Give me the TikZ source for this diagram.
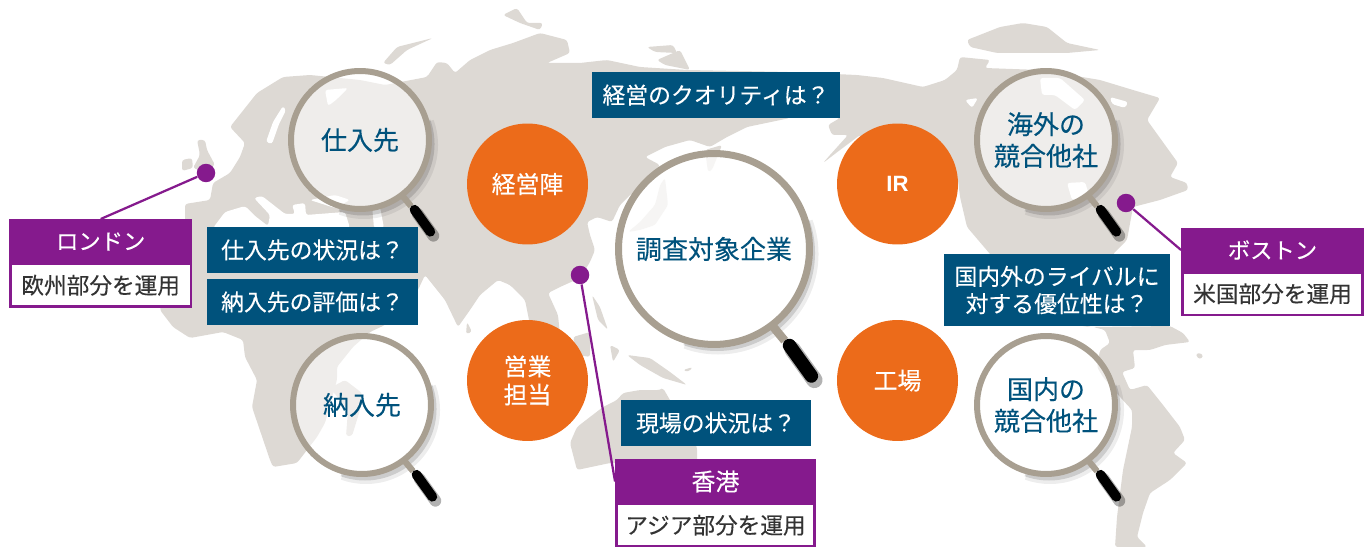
\documentclass[tikz,border=0pt]{standalone}
\usepackage{fontspec}
\setmainfont{Noto Sans CJK JP}[FakeBold=.25]
\newfontfamily\latinbold{Liberation Sans Bold}
\usetikzlibrary{positioning}
\definecolor{landgray}{HTML}{DDD9D4}
\definecolor{rimgray}{HTML}{A89F91}
\definecolor{deepblue}{HTML}{00527C}
\definecolor{askorange}{HTML}{EC6B1A}
\definecolor{sitepurple}{HTML}{851A8D}
\definecolor{bodyink}{HTML}{333333}
\tikzset{
    land/.style = {fill=landgray, rounded corners=1.5pt},
    sea/.style = {fill=white, rounded corners=1.5pt},
    lens/.style = {circle, draw=rimgray, line width=.12cm, fill=white, fill opacity=.55, text opacity=1, text=deepblue, align=center, inner sep=0pt, minimum size=2.76cm, font=\fontsize{14.8}{18}\selectfont},
    asker/.style = {circle, fill=askorange, text=white, align=center, inner sep=0pt, minimum size=2.42cm, font=\fontsize{13.6}{16}\selectfont},
    question/.style = {fill=deepblue, text=white, align=center, inner sep=0pt, minimum height=.92cm, font=\fontsize{13}{15.5}\selectfont},
    sitetitle/.style = {fill=sitepurple, text=white, inner sep=0pt, outer sep=0pt, minimum height=.9cm, font=\fontsize{12.7}{15}\selectfont},
    sitebody/.style = {draw=sitepurple, line width=.05cm, fill=white, text=bodyink, inner sep=0pt, outer sep=0pt, minimum height=.85cm, font=\fontsize{12.9}{15}\selectfont},
    sitedot/.style = {circle, fill=sitepurple, inner sep=0pt, minimum size=.37cm},
    leader/.style = {draw=sitepurple, line width=.045cm}
}
\begin{document}
\begin{tikzpicture}[x=.02cm, y=-.02cm]
    \useasboundingbox (0,0) rectangle (1369,547);
    % Draw the map: Europe, Asia and Africa
    \fill[land] (185,204) -- (210,200) -- (213,183) -- (230,173) -- (240,157) -- (245,143) -- (230,127) -- (257,93) -- (283,77) -- (310,75) -- (360,80) -- (385,85) -- (427,77) -- (437,62) -- (447,63) -- (455,73) -- (470,60) -- (490,50) -- (513,43) -- (540,33) -- (567,40) -- (570,53) -- (547,63) -- (580,63) -- (607,60) -- (640,67) -- (687,70) -- (790,72) -- (790,118) -- (747,127) -- (727,137) -- (710,147) -- (690,140) -- (665,147) -- (645,157) -- (660,165) -- (650,180) -- (630,195) -- (620,205) -- (612,222) -- (597,217) -- (587,222) -- (590,235) -- (595,250) -- (590,262) -- (580,278) -- (560,287) -- (548,293) -- (558,315) -- (560,335) -- (530,325) -- (525,300) -- (510,285) -- (498,280) -- (480,295) -- (470,310) -- (458,327) -- (445,300) -- (425,275) -- (418,290) -- (385,325) -- (370,332) -- (353,347) -- (337,367) -- (337,380) -- (325,423) -- (317,437) -- (297,463) -- (273,467) -- (270,460) -- (252,407) -- (257,380) -- (245,357) -- (243,340) -- (223,332) -- (190,338) -- (173,327) -- (160,310) -- (165,270) -- (185,227) -- cycle;
    % Draw the seas
    \fill[sea] (213,228) -- (225,212) -- (245,206) -- (255,216) -- (268,226) -- (270,215) -- (254,198) -- (262,196) -- (285,214) -- (295,214) -- (292,205) -- (305,203) -- (306,215) -- (345,212) -- (350,228) -- cycle;
    \fill[sea] (310,200) -- (335,195) -- (350,200) -- (335,208) -- cycle;
    \fill[sea] (372,205) -- (380,207) -- (384,228) -- (374,228) -- cycle;
    \fill[sea] (266,142) -- (273,122) -- (283,106) -- (286,110) -- (279,124) -- (272,144) -- cycle;
    \fill[sea] (325,90) -- (348,88) -- (336,100) -- (328,106) -- cycle;
    % Draw the islands of the old world
    \fill[land] (197,140) -- (205,140) -- (207,150) -- (215,165) -- (205,172) -- (193,168) -- (200,155) -- cycle;
    \fill[land] (182,160) -- (192,158) -- (193,168) -- (182,171) -- cycle;
    \fill[land] (383,63) -- (397,47) -- (433,38) -- (407,50) -- (390,65) -- cycle;
    \fill[land] (503,15) -- (517,8) -- (527,23) -- (543,23) -- (540,30) -- (520,23) -- cycle;
    \fill[land] (647,47) -- (673,45) -- (677,53) -- (655,52) -- cycle;
    \fill[land] (657,60) -- (680,50) -- (690,70) -- (665,65) -- cycle;
    \fill[land] (705,150) -- (722,145) -- (712,170) -- (708,172) -- cycle;
    \fill[land] (665,178) -- (668,205) -- (655,225) -- (640,230) -- (628,232) -- (640,222) -- (655,205) -- (660,185) -- cycle;
    \fill[land] (467,322) -- (472,332) -- (466,334) -- cycle;
    \fill[land] (592,295) -- (600,307) -- (608,330) -- (598,320) -- cycle;
    \fill[land] (573,337) -- (590,332) -- (590,357) -- (578,355) -- cycle;
    \fill[land] (610,345) -- (620,350) -- (613,362) -- cycle;
    \fill[land] (627,355) -- (650,358) -- (670,372) -- (687,385) -- (663,378) -- (640,365) -- cycle;
    \fill[land] (683,370) -- (693,367) -- (688,372) -- cycle;
    \fill[land] (570,443) -- (577,427) -- (603,407) -- (617,400) -- (623,393) -- (640,390) -- (660,390) -- (663,388) -- (697,447) -- (697,465) -- (610,463) -- (577,470) -- cycle;
    \fill[land] (330,388) -- (345,380) -- (362,393) -- (360,410) -- (352,436) -- (346,436) -- (348,410) -- cycle;
    % Draw the map: North and South America
    \fill[land] (790,72) -- (857,75) -- (883,78) -- (923,87) -- (945,80) -- (957,70) -- (960,57) -- (990,60) -- (985,68) -- (1040,70) -- (1100,80) -- (1133,90) -- (1160,98) -- (1147,120) -- (1178,163) -- (1170,177) -- (1187,183) -- (1188,190) -- (1160,200) -- (1133,207) -- (1127,240) -- (1113,254) -- (1113,300) -- (1090,327) -- (1040,320) -- (990,254) -- (967,227) -- (960,197) -- (958,180) -- (860,135) -- (840,150) -- (823,163) -- (830,155) -- (848,135) -- (832,135) -- (828,125) -- (840,118) -- cycle;
    \fill[sea] (1040,78) -- (1060,78) -- (1085,100) -- (1075,110) -- (1055,95) -- (1042,95) -- cycle;
    \fill[sea] (1110,97) -- (1128,102) -- (1125,108) -- (1112,104) -- cycle;
    \fill[sea] (1067,183) -- (1085,182) -- (1090,198) -- (1072,200) -- cycle;
    \fill[sea] (965,100) -- (978,98) -- (972,108) -- cycle;
    \fill[land] (1093,327) -- (1105,330) -- (1110,343) -- (1100,350) -- (1097,367) -- (1103,377) -- (1120,397) -- (1132,410) -- (1132,427) -- (1123,470) -- (1117,517) -- (1115,547) -- (1147,547) -- (1137,537) -- (1143,513) -- (1150,493) -- (1170,480) -- (1187,463) -- (1173,453) -- (1185,440) -- (1180,427) -- (1163,405) -- (1147,385) -- (1130,390) -- (1122,372) -- (1135,368) -- (1133,350) -- (1150,350) -- (1165,345) -- (1190,342) -- (1183,333) -- (1170,326) -- cycle;
    \fill[land] (1196,353) -- (1203,354) -- (1202,359) -- (1197,358) -- cycle;
    \fill[land] (967,40) -- (1000,27) -- (1023,23) -- (1047,27) -- (1067,43) -- (1100,50) -- (1067,53) -- (997,53) -- (970,47) -- cycle;
    % Draw the handles and the shadows of the lenses
    \foreach \cx/\cy/\r in {360/140/69, 362/405/69, 1046/140/69, 1046/405/69, 714/249/95.5}{
        \draw[black, opacity=.07, line width=.2cm] (\cx+4,\cy+5) ++(-20:\r) arc[start angle=-20, end angle=110, radius=\r];
        \draw[black, opacity=.14, line width=.1cm] (\cx+3,\cy+4) ++(-20:\r) arc[start angle=-20, end angle=110, radius=\r];
        \draw[rimgray, line width=\r*.0018cm] (\cx+.6*\r,\cy+.79*\r) -- (\cx+.74*\r,\cy+.96*\r);
        \draw[black, opacity=.3, line cap=round, line width=\r*.0034cm] (\cx+.79*\r+3,\cy+1.01*\r+4) -- (\cx+1.02*\r+3,\cy+1.33*\r+4);
        \draw[black, line cap=round, line width=\r*.0028cm] (\cx+.79*\r,\cy+1.01*\r) -- (\cx+1.02*\r,\cy+1.33*\r);
    }
    % Draw the lenses
    \node[lens] (supplier) at (360,140) {仕入先};
    \node[lens] (customer) at (362,405) {納入先};
    \node[lens] (overseas) at (1046,140) {海外の\\競合他社};
    \node[lens] (domestic) at (1046,405) {国内の\\競合他社};
    \node[lens, line width=.14cm, minimum size=3.82cm, fill opacity=.75] (target) at (714,249) {調査対象企業};
    % Draw the people asked
    \node[asker] (board) at (527.5,184) {経営陣};
    \node[asker] (sales) at (527.5,380.5) {営業\\担当};
    \node[asker, font=\fontsize{12.6}{16}\latinbold] (ir) at (897.5,184) {IR};
    \node[asker] (plant) at (897.5,380.5) {工場};
    % Draw the questions
    \node[question, minimum width=4.96cm] (qquality) at (716,95) {経営のクオリティは？};
    \node[question, minimum width=4.22cm] (qsupplier) at (312.5,250) {仕入先の状況は？};
    \node[question, minimum width=4.22cm] (qcustomer) at (312.5,302) {納入先の評価は？};
    \node[question, minimum width=4.52cm, minimum height=1.44cm] (qrival) at (1057,290) {国内外のライバルに\\対する優位性は？};
    \node[question, minimum width=3.8cm] (qsite) at (716,423) {現場の状況は？};
    % Draw the offices
    \node[sitedot] (londondot) at (206,173) {};
    \node[sitetitle, minimum width=3.66cm] (londontitle) at (100.7,241.5) {ロンドン};
    \node[sitebody, minimum width=3.61cm, below=0pt of londontitle] (londonbody) {欧州部分を運用};
    \node[sitedot] (bostondot) at (1126,203) {};
    \node[sitetitle, minimum width=3.66cm] (bostontitle) at (1272.5,250) {ボストン};
    \node[sitebody, minimum width=3.61cm, below=0pt of bostontitle] (bostonbody) {米国部分を運用};
    \node[sitedot] (hongkongdot) at (580,275) {};
    \node[sitetitle, minimum width=4.02cm, font=\fontsize{13.6}{15}\selectfont] (hongkongtitle) at (715.5,481.5) {香港};
    \node[sitebody, minimum width=3.97cm, below=0pt of hongkongtitle] (hongkongbody) {アジア部分を運用};
    % Draw the leaders
    \draw[leader] (londondot) -- (londontitle.north);
    \draw[leader] (bostondot) -- (bostontitle.west);
    \draw[leader] (hongkongdot) -- (hongkongtitle.west);
\end{tikzpicture}
\end{document}
